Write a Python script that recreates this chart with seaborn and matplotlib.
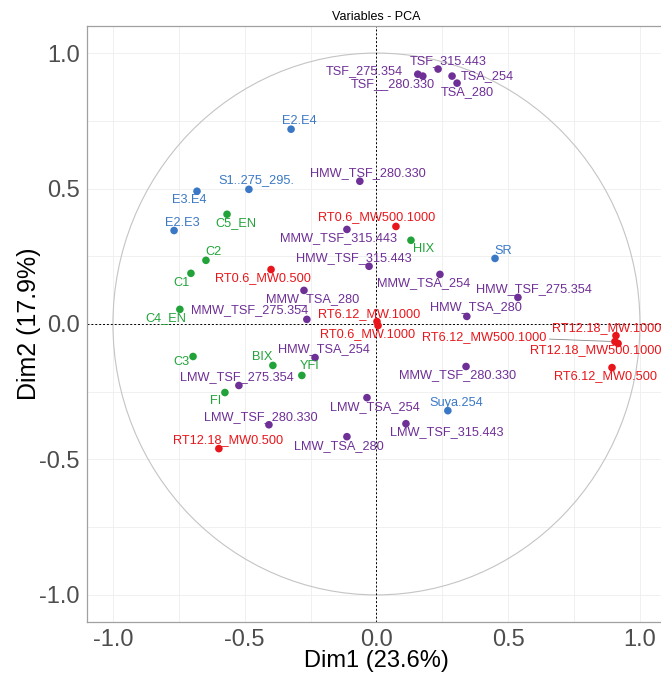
import numpy as np
import pandas as pd
import matplotlib
matplotlib.use("Agg")
import matplotlib.pyplot as plt
from matplotlib.patches import Circle
import seaborn as sns

# variable names, coordinates on Dim1 / Dim2 and group
names = ['TSF_275.354', 'TSF__280.330', 'TSF_315.443', 'TSA_254', 'TSA_280',
         'E2.E4', 'S1..275_295.', 'E3.E4', 'E2.E3', 'C5_EN', 'C2', 'C1', 'C4_EN',
         'HMW_TSF_280.330', 'MMW_TSF_315.443', 'HMW_TSF_315.443', 'RT0.6_MW500.1000',
         'RT0.6_MW0.500', 'MMW_TSA_280', 'MMW_TSF_275.354', 'RT6.12_MW.1000',
         'RT0.6_MW.1000', 'HMW_TSA_254', 'HIX', 'SR', 'MMW_TSA_254',
         'HMW_TSF_275.354', 'HMW_TSA_280', 'RT12.18_MW.1000', 'RT6.12_MW500.1000',
         'RT12.18_MW500.1000', 'RT6.12_MW0.500', 'MMW_TSF_280.330', 'C3', 'BIX',
         'YFI', 'LMW_TSF_275.354', 'FI', 'LMW_TSF_280.330', 'RT12.18_MW0.500',
         'LMW_TSA_254', 'LMW_TSA_280', 'Suya.254', 'LMW_TSF_315.443']
dim1 = [0.157, 0.176, 0.234, 0.287, 0.306,
        -0.324, -0.484, -0.681, -0.768, -0.567, -0.647, -0.704, -0.746,
        -0.063, -0.112, -0.028, 0.074,
        -0.400, -0.275, -0.264, 0.002,
        0.006, -0.233, 0.131, 0.450, 0.241,
        0.537, 0.343, 0.909, 0.905,
        0.917, 0.894, 0.340, -0.696, -0.393,
        -0.283, -0.522, -0.575, -0.408, -0.598,
        -0.036, -0.112, 0.271, 0.112]
dim2 = [0.922, 0.915, 0.941, 0.915, 0.889,
        0.719, 0.497, 0.490, 0.345, 0.405, 0.235, 0.187, 0.054,
        0.527, 0.349, 0.213, 0.360,
        0.201, 0.124, 0.017, 0.009,
        -0.006, -0.124, 0.309, 0.242, 0.183,
        0.098, 0.028, -0.043, -0.065,
        -0.072, -0.161, -0.157, -0.120, -0.153,
        -0.190, -0.227, -0.253, -0.372, -0.460,
        -0.272, -0.416, -0.320, -0.368]
groups = ['fluor', 'fluor', 'fluor', 'fluor', 'fluor',
          'spec', 'spec', 'spec', 'spec', 'comp', 'comp', 'comp', 'comp',
          'fluor', 'fluor', 'fluor', 'rt',
          'rt', 'fluor', 'fluor', 'rt',
          'rt', 'fluor', 'comp', 'spec', 'fluor',
          'fluor', 'fluor', 'rt', 'rt',
          'rt', 'rt', 'fluor', 'comp', 'comp',
          'comp', 'fluor', 'comp', 'fluor', 'rt',
          'fluor', 'fluor', 'spec', 'fluor']

palette = {'fluor': '#6E2F96', 'rt': '#E8161B', 'comp': '#22A33A', 'spec': '#3A78C6'}

# label offsets in pixels (dx, dy) relative to each point
label_offsets = {
    'TSF_275.354': (-53, 3), 'TSF__280.330': (-30, -8), 'TSF_315.443': (10, 8),
    'TSA_254': (35, 0), 'TSA_280': (10, -9), 'E2.E4': (8, 8),
    'S1..275_295.': (8, 9), 'E3.E4': (-8, -9), 'E2.E3': (8, 8), 'C5_EN': (9, -9),
    'C2': (8, 8), 'C1': (-9, -10), 'C4_EN': (-14, -9), 'HMW_TSF_280.330': (8, 8),
    'MMW_TSF_315.443': (-8, -9), 'HMW_TSF_315.443': (-15, 8),
    'RT0.6_MW500.1000': (-19, 9), 'RT0.6_MW0.500': (-8, -9),
    'MMW_TSA_280': (9, -9), 'MMW_TSF_275.354': (-57, 9),
    'RT6.12_MW.1000': (-8, 7), 'RT0.6_MW.1000': (-10, -8),
    'HMW_TSA_254': (9, 8), 'HIX': (13, -9), 'SR': (8, 7), 'MMW_TSA_254': (-16, -9),
    'HMW_TSF_275.354': (16, 8), 'HMW_TSA_280': (9, 9),
    'RT12.18_MW.1000': (-9, 8), 'RT6.12_MW500.1000': (-131, 5),
    'RT12.18_MW500.1000': (-22, -7), 'RT6.12_MW0.500': (-7, -8),
    'MMW_TSF_280.330': (-8, -9), 'C3': (-12, -6), 'BIX': (-11, 8), 'YFI': (8, 9),
    'LMW_TSF_275.354': (-2, 8), 'FI': (-9, -8), 'LMW_TSF_280.330': (-8, 8),
    'RT12.18_MW0.500': (9, 9), 'LMW_TSA_254': (8, -9), 'LMW_TSA_280': (-8, -9),
    'Suya.254': (8, 8), 'LMW_TSF_315.443': (41, -8),
}

df = pd.DataFrame({'name': names, 'Dim1': dim1, 'Dim2': dim2, 'group': groups})

sns.set_theme(style="white")
plt.rcParams['font.family'] = ['Liberation Sans', 'DejaVu Sans']

fig = plt.figure(figsize=(6.61, 6.73), dpi=100)
ax = fig.add_axes([0.131, 0.0758, 0.877, 0.8856])

# circle of correlations and reference lines
ax.add_patch(Circle((0, 0), 1, fill=False, color='#C4C4C4', lw=0.8, zorder=1))
ax.axhline(0, color='black', ls=(0, (2, 2)), lw=0.7, zorder=1)
ax.axvline(0, color='black', ls=(0, (2, 2)), lw=0.7, zorder=1)

sns.scatterplot(data=df, x='Dim1', y='Dim2', hue='group', palette=palette,
                s=30, edgecolor='none', legend=False, ax=ax, zorder=3)

for _, r in df.iterrows():
    dx, dy = label_offsets[r['name']]
    col = palette[r['group']]
    arrow = None
    if r['name'] == 'RT6.12_MW500.1000':
        arrow = dict(arrowstyle='-', color='#888888', lw=0.6, shrinkA=0, shrinkB=3)
    ax.annotate(r['name'], (r['Dim1'], r['Dim2']), xytext=(dx, dy),
                textcoords='offset pixels', ha='center', va='center',
                fontsize=9.2, color=col, arrowprops=arrow, zorder=4,
                annotation_clip=False)

ax.set_xlim(-1.1, 1.1)
ax.set_ylim(-1.1, 1.1)
ticks = [-1.0, -0.5, 0.0, 0.5, 1.0]
ax.set_xticks(ticks)
ax.set_yticks(ticks)
ax.set_xticklabels([f"{t:.1f}" for t in ticks])
ax.set_yticklabels([f"{t:.1f}" for t in ticks])
ax.set_xticks([-0.75, -0.25, 0.25, 0.75], minor=True)
ax.set_yticks([-0.75, -0.25, 0.25, 0.75], minor=True)
ax.grid(True, which='both', color='#EEEEEE', lw=0.6)
ax.set_axisbelow(True)
ax.tick_params(axis='both', which='major', labelsize=17, labelcolor='#4D4D4D',
               length=3, width=0.6, color='#999999', pad=2)
ax.tick_params(axis='both', which='minor', length=0)
for sp in ax.spines.values():
    sp.set_color('#A0A0A0')
    sp.set_linewidth(0.9)

ax.set_xlabel('Dim1 (23.6%)', fontsize=17, color='black', labelpad=-1)
ax.set_ylabel('Dim2 (17.9%)', fontsize=18, color='black', labelpad=-1)
ax.set_title('Variables - PCA', fontsize=9, color='black', pad=4)

fig.savefig('out.png', dpi=100)
